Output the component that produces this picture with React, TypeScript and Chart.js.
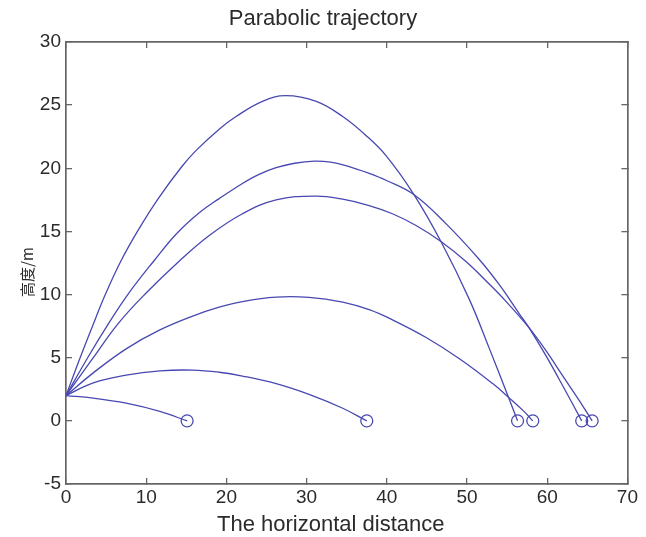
import React, { useEffect, useRef } from "react";
import { Chart, registerables } from "chart.js";

Chart.register(...registerables);

// ---- chart text ----
const titleText = "Parabolic trajectory";
const xLabel = "The horizontal distance";
const yLabel = "高度/m";

// ---- axis ticks ----
const xTicks = [0, 10, 20, 30, 40, 50, 60, 70];
const yTicks = [-5, 0, 5, 10, 15, 20, 25, 30];

// ---- trajectories (horizontal distance, height) ----
const trajAX = [0, 1.7, 3.3, 4.9, 6.8, 9.0, 11.5, 14.4, 16.2, 19.1, 21.2, 24.5, 27.4, 31.2, 34.5, 37.4, 39.9, 43.4, 46.75, 50.3, 52.8, 54.9, 56.3];
const trajAY = [2, 4.9, 7.5, 10.0, 12.6, 15.1, 17.6, 20.1, 21.4, 23.1, 24.1, 25.3, 25.75, 25.3, 24.1, 22.6, 21.0, 17.9, 14.2, 9.6, 5.7, 2.3, 0];

const trajBX = [0, 2.7, 5.2, 7.7, 11.0, 13.75, 16.65, 19.1, 22.0, 24.0, 26.2, 28.5, 31.0, 33.0, 35.0, 37.8, 39.9, 43.4, 47.4, 51.5, 54.0, 56.5, 57.7, 59.8, 62.0, 64.3];
const trajBY = [2, 5.0, 7.6, 10.0, 12.7, 14.8, 16.5, 17.6, 18.8, 19.5, 20.05, 20.4, 20.56, 20.48, 20.2, 19.6, 19.05, 17.9, 15.6, 12.8, 10.8, 8.5, 7.4, 5.2, 2.7, 0];

const trajCX = [0, 3.4, 6.5, 9.8, 14.2, 17.9, 22.0, 26.2, 31.2, 34.5, 37.8, 40.7, 43.7, 46.75, 49.9, 52.5, 54.8, 57.7, 59.8, 62.0, 64.0, 65.6];
const trajCY = [2, 5.0, 7.7, 10.0, 12.7, 14.7, 16.4, 17.5, 17.8, 17.55, 17.05, 16.4, 15.45, 14.2, 12.6, 11.0, 9.5, 7.4, 5.6, 3.5, 1.6, 0];

const trajDX = [0, 3.4, 7.5, 11.7, 15.8, 19.1, 22.0, 26.2, 30.3, 34.5, 37.8, 40.7, 44.9, 49.1, 53.2, 55.3, 57.1, 58.2];
const trajDY = [2, 3.8, 5.7, 7.2, 8.3, 9.0, 9.45, 9.8, 9.78, 9.4, 8.8, 8.0, 6.6, 4.9, 2.95, 1.8, 0.75, 0];

const trajEX = [0, 3.4, 7.5, 11.7, 15.8, 19.1, 22.0, 26.2, 30.3, 34.5, 37.5];
const trajEY = [2, 3.0, 3.62, 3.96, 4.02, 3.85, 3.55, 2.95, 2.1, 1.0, 0];

const trajFX = [0, 3.4, 7.5, 11.7, 15.1];
const trajFY = [2, 1.8, 1.4, 0.75, 0];

const lineColor = "#4848b2";
const frameColor = "#666666";
const textColor = "#2b2b2b";
const plainFamily = "'Liberation Sans', Arial, sans-serif";
const cjkFamily = "'Noto Sans CJK SC', sans-serif";

function toPoints(xs: number[], ys: number[]) {
  return xs.map((x, i) => ({ x, y: ys[i] }));
}

// draws the two axis titles next to the plot frame
const axisLabelPlugin = {
  id: "axisLabels",
  afterDraw(chart: any) {
    const { ctx, chartArea } = chart;
    ctx.save();
    ctx.fillStyle = textColor;
    ctx.textAlign = "center";
    ctx.textBaseline = "middle";
    ctx.font = `22px ${plainFamily}`;
    ctx.fillText(xLabel, (chartArea.left + chartArea.right) / 2 - 16, chartArea.bottom + 41);
    ctx.translate(chartArea.left - 39, (chartArea.top + chartArea.bottom) / 2 + 9);
    ctx.rotate(-Math.PI / 2);
    ctx.font = `15px ${cjkFamily}`;
    ctx.fillText(yLabel, 0, 0);
    ctx.restore();
  },
};

export default function App() {
  const ref = useRef<HTMLCanvasElement>(null);

  useEffect(() => {
    document.body.style.margin = "0";
    const canvas = ref.current;
    if (!canvas) return;

    const trajectories: [number[], number[]][] = [
      [trajAX, trajAY],
      [trajBX, trajBY],
      [trajCX, trajCY],
      [trajDX, trajDY],
      [trajEX, trajEY],
      [trajFX, trajFY],
    ];

    const lineSets = trajectories.map(([xs, ys]) => ({
      data: toPoints(xs, ys),
      showLine: true,
      borderColor: lineColor,
      borderWidth: 1.3,
      pointRadius: 0,
      pointHoverRadius: 0,
      tension: 0.4,
      fill: false,
    }));

    const landing = {
      data: trajectories.map(([xs, ys]) => ({ x: xs[xs.length - 1], y: ys[ys.length - 1] })),
      showLine: false,
      pointStyle: "circle" as const,
      pointRadius: 6,
      pointHoverRadius: 6,
      pointBorderWidth: 1.3,
      pointBorderColor: lineColor,
      pointBackgroundColor: "rgba(0,0,0,0)",
    };

    const setTicks = (vals: number[]) => (scale: any) => {
      scale.ticks = vals.map((v) => ({ value: v }));
    };

    const grid = {
      drawOnChartArea: false,
      drawTicks: true,
      tickLength: -6,
      color: frameColor,
      lineWidth: 1.3,
    };
    const border = { display: true, color: frameColor, width: 1.7 };

    const chart = new Chart(canvas, {
      type: "scatter",
      data: { datasets: [...lineSets, landing] as any },
      plugins: [axisLabelPlugin],
      options: {
        responsive: false,
        animation: false,
        layout: { padding: 0 },
        events: [],
        plugins: {
          legend: { display: false },
          tooltip: { enabled: false },
          title: {
            display: true,
            text: titleText,
            color: textColor,
            font: { family: plainFamily, size: 22, weight: "normal", lineHeight: 1 },
            padding: { top: 8, bottom: 12 },
          },
        },
        scales: {
          x: {
            type: "linear",
            position: "bottom",
            min: 0,
            max: 70,
            afterBuildTicks: setTicks(xTicks),
            afterFit: (s: any) => {
              s.height = 53;
            },
            grid,
            border,
            ticks: {
              color: textColor,
              font: { family: plainFamily, size: 19 },
              padding: 8,
              maxRotation: 0,
            },
          },
          x2: {
            type: "linear",
            position: "top",
            min: 0,
            max: 70,
            afterBuildTicks: setTicks(xTicks),
            afterFit: (s: any) => {
              s.height = 0;
            },
            grid,
            border,
            ticks: { display: false },
          },
          y: {
            type: "linear",
            position: "left",
            min: -5,
            max: 30,
            afterBuildTicks: setTicks(yTicks),
            afterFit: (s: any) => {
              s.width = 66;
            },
            grid,
            border,
            ticks: {
              color: textColor,
              font: { family: plainFamily, size: 19 },
              padding: 11,
            },
          },
          y2: {
            type: "linear",
            position: "right",
            min: -5,
            max: 30,
            afterBuildTicks: setTicks(yTicks),
            afterFit: (s: any) => {
              s.width = 18;
            },
            grid,
            border,
            ticks: { display: false },
          },
        },
      } as any,
    });

    return () => chart.destroy();
  }, []);

  return (
    <div style={{ width: 646, height: 537 }}>
      <canvas ref={ref} width={646} height={537} style={{ display: "block" }} />
    </div>
  );
}
